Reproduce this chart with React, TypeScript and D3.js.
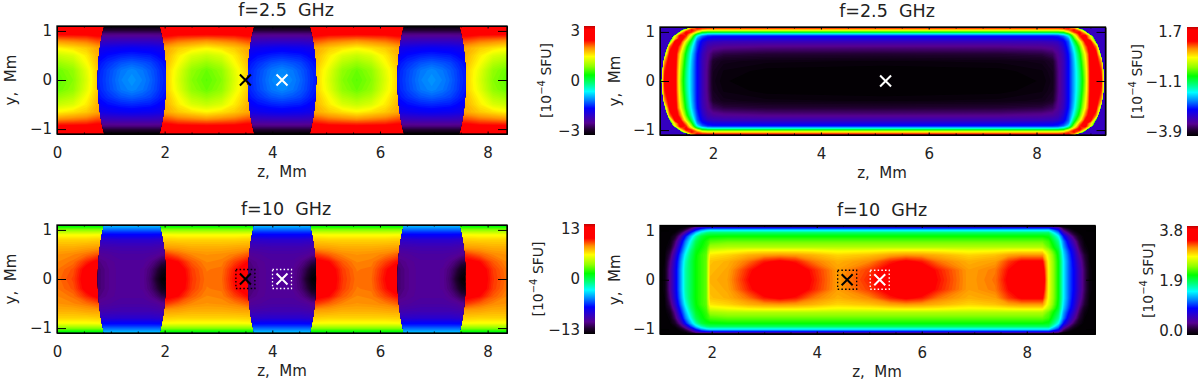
import { useEffect, useRef } from "react";
import * as d3 from "d3";

// colour table (position 0..1 along the bar)
const colorPos = [0, 0.05, 0.11, 0.17, 0.245, 0.32, 0.4, 0.47, 0.55, 0.63, 0.72, 0.8, 0.87, 0.97, 1];
const colorHex = ["#000000", "#200030", "#560090", "#3400c0", "#0000ff", "#0080ff", "#00ffff", "#00ff80", "#00ff00", "#90ff00", "#ffff00", "#ff9000", "#ff0000", "#ff0000", "#c00000"];

// lens edge, half width in Mm at each |y|
const lensEdgeY = [0, 0.3, 0.55, 0.75, 0.9, 1.1];
const lensHalf = [0.635, 0.625, 0.605, 0.58, 0.555, 0.515];
const lensCenters = [1.39, 4.18, 6.96];
const lensZ = [-0.66, -0.45, -0.2, 0, 0.2, 0.35, 0.45, 0.55, 0.66];
const lensRowY = [0, 0.2, 0.35, 0.5, 0.65, 0.8, 0.95, 1.1];

// f=2.5 GHz, transverse field: value rows from y=0 outward
const bgZ = [0, 0.3, 0.55, 0.75, 1.39, 2.03, 2.25, 2.5, 2.78, 3.06, 3.3, 3.55, 4.18, 4.8, 5.05, 5.3, 5.57, 5.84, 6.1, 6.35, 6.96, 7.6, 7.85, 8.1, 8.36];
const bgY25 = [0, 0.2, 0.33, 0.5, 0.65, 0.8, 0.95, 1.1];
const bg25 = [
  [0.6, 0.75, 1.15, 1.55, 1.6, 1.55, 1.15, 0.75, 0.6, 0.75, 1.15, 1.55, 1.6, 1.55, 1.15, 0.75, 0.6, 0.75, 1.15, 1.55, 1.6, 1.55, 1.15, 0.75, 0.6],
  [0.65, 0.8, 1.2, 1.55, 1.6, 1.55, 1.2, 0.8, 0.65, 0.8, 1.2, 1.55, 1.6, 1.55, 1.2, 0.8, 0.65, 0.8, 1.2, 1.55, 1.6, 1.55, 1.2, 0.8, 0.65],
  [0.8, 0.95, 1.3, 1.6, 1.65, 1.6, 1.3, 0.95, 0.8, 0.95, 1.3, 1.6, 1.65, 1.6, 1.3, 0.95, 0.8, 0.95, 1.3, 1.6, 1.65, 1.6, 1.3, 0.95, 0.8],
  [1.05, 1.15, 1.4, 1.65, 1.7, 1.65, 1.4, 1.15, 1.05, 1.15, 1.4, 1.65, 1.7, 1.65, 1.4, 1.15, 1.05, 1.15, 1.4, 1.65, 1.7, 1.65, 1.4, 1.15, 1.05],
  [1.35, 1.45, 1.55, 1.7, 1.75, 1.7, 1.55, 1.45, 1.35, 1.45, 1.55, 1.7, 1.75, 1.7, 1.55, 1.45, 1.35, 1.45, 1.55, 1.7, 1.75, 1.7, 1.55, 1.45, 1.35],
  [1.8, 1.85, 1.9, 2.0, 2.05, 2.0, 1.9, 1.85, 1.8, 1.85, 1.9, 2.0, 2.05, 2.0, 1.9, 1.85, 1.8, 1.85, 1.9, 2.0, 2.05, 2.0, 1.9, 1.85, 1.8],
  [2.3, 2.3, 2.3, 2.35, 2.35, 2.35, 2.3, 2.3, 2.3, 2.3, 2.3, 2.35, 2.35, 2.35, 2.3, 2.3, 2.3, 2.3, 2.3, 2.35, 2.35, 2.35, 2.3, 2.3, 2.3],
  [2.9, 2.9, 2.9, 2.9, 2.9, 2.9, 2.9, 2.9, 2.9, 2.9, 2.9, 2.9, 2.9, 2.9, 2.9, 2.9, 2.9, 2.9, 2.9, 2.9, 2.9, 2.9, 2.9, 2.9, 2.9],
];
const lens25 = [
  [-1.45, -1.28, -1.08, -1.0, -1.08, -1.18, -1.28, -1.38, -1.45],
  [-1.47, -1.3, -1.12, -1.05, -1.12, -1.22, -1.3, -1.4, -1.47],
  [-1.52, -1.38, -1.25, -1.2, -1.25, -1.3, -1.38, -1.45, -1.52],
  [-1.6, -1.5, -1.43, -1.4, -1.43, -1.45, -1.5, -1.55, -1.6],
  [-1.72, -1.66, -1.62, -1.6, -1.62, -1.63, -1.66, -1.68, -1.72],
  [-2.05, -2.02, -2.0, -2.0, -2.0, -2.0, -2.02, -2.03, -2.05],
  [-2.45, -2.45, -2.45, -2.45, -2.45, -2.45, -2.45, -2.45, -2.45],
  [-3, -3, -3, -3, -3, -3, -3, -3, -3],
];

// f=10 GHz, transverse field
const bgY10 = [0, 0.2, 0.35, 0.5, 0.65, 0.8, 0.9, 1.0, 1.1];
const bg10 = [
  [8.2, 8.8, 10.2, 11, 11, 11, 10.5, 9, 8.2, 8.3, 9.6, 10.8, 11, 11, 10.5, 9, 8.2, 8.3, 9.6, 10.8, 11, 11, 10.5, 9, 8.2],
  [8.1, 8.6, 10, 10.8, 11, 11, 10.3, 8.9, 8.1, 8.2, 9.4, 10.6, 11, 11, 10.3, 8.9, 8.1, 8.2, 9.4, 10.6, 11, 11, 10.3, 8.9, 8.1],
  [7.9, 8.2, 9.2, 9.9, 10, 10, 9.6, 8.5, 7.9, 8, 8.8, 9.6, 10, 10, 9.6, 8.5, 7.9, 8, 8.8, 9.6, 10, 10, 9.6, 8.5, 7.9],
  [7.7, 7.9, 8.2, 8.6, 9, 9, 8.4, 7.9, 7.7, 7.8, 8, 8.5, 9, 9, 8.4, 7.9, 7.7, 7.8, 8, 8.5, 9, 9, 8.4, 7.9, 7.7],
  [7.2, 7.2, 7.4, 7.5, 7.6, 7.5, 7.4, 7.2, 7.2, 7.2, 7.3, 7.4, 7.6, 7.5, 7.4, 7.2, 7.2, 7.2, 7.3, 7.4, 7.6, 7.5, 7.4, 7.2, 7.2],
  [6.5, 6.5, 6.5, 6.6, 6.6, 6.6, 6.5, 6.5, 6.5, 6.5, 6.5, 6.6, 6.6, 6.6, 6.5, 6.5, 6.5, 6.5, 6.5, 6.6, 6.6, 6.6, 6.5, 6.5, 6.5],
  [5.6, 5.6, 5.6, 5.7, 5.7, 5.7, 5.6, 5.6, 5.6, 5.6, 5.6, 5.7, 5.7, 5.7, 5.6, 5.6, 5.6, 5.6, 5.6, 5.7, 5.7, 5.7, 5.6, 5.6, 5.6],
  [3.3, 3.3, 3.3, 3.3, 3.3, 3.3, 3.3, 3.3, 3.3, 3.3, 3.3, 3.3, 3.3, 3.3, 3.3, 3.3, 3.3, 3.3, 3.3, 3.3, 3.3, 3.3, 3.3, 3.3, 3.3],
  [0.5, 0.5, 0.5, 0.5, 0.5, 0.5, 0.5, 0.5, 0.5, 0.5, 0.5, 0.5, 0.5, 0.5, 0.5, 0.5, 0.5, 0.5, 0.5, 0.5, 0.5, 0.5, 0.5, 0.5, 0.5],
];
const lens10 = [
  [-10.8, -10.2, -9.8, -9.8, -10, -10.8, -11.8, -12.8, -13],
  [-10.8, -10.2, -9.8, -9.8, -10, -10.6, -11.3, -12.2, -12.6],
  [-10.5, -10.1, -9.8, -9.8, -9.8, -10.2, -10.6, -11.2, -11.5],
  [-10, -9.8, -9.6, -9.6, -9.6, -9.7, -9.8, -10.1, -10.3],
  [-9.3, -9.2, -9.1, -9.1, -9.1, -9.1, -9.2, -9.3, -9.4],
  [-8.2, -8.2, -8.1, -8.1, -8.1, -8.1, -8.2, -8.2, -8.2],
  [-6, -6, -6, -6, -6, -6, -6, -6, -6],
  [-3.4, -3.4, -3.4, -3.4, -3.4, -3.4, -3.4, -3.4, -3.4],
];

// f=2.5 GHz, longitudinal field: one quarter, z from the left edge to mid-length
const q25Mid = 5.15;
const q25Z = [1.02, 1.1, 1.2, 1.3, 1.4, 1.5, 1.6, 1.7, 1.8, 1.9, 2.0, 2.2, 3, 5.15];
const q25Y = [0, 0.2, 0.4, 0.55, 0.7, 0.8, 0.86, 0.92, 0.96, 1.0, 1.04, 1.08, 1.1];
const q25 = [
  [-0.8, 1.1, 1.3, 1.1, -0.4, -1.3, -1.9, -2.5, -3.0, -3.35, -3.75, -3.85, -3.9, -3.9],
  [-0.8, 0.9, 1.3, 1.1, -0.3, -1.25, -1.9, -2.5, -3.0, -3.35, -3.72, -3.82, -3.88, -3.9],
  [-0.9, 0.5, 1.3, 1.15, -0.1, -1.1, -1.85, -2.5, -3.0, -3.3, -3.65, -3.75, -3.8, -3.82],
  [-0.9, -0.4, 1.2, 1.2, 0.1, -0.95, -1.75, -2.45, -2.95, -3.25, -3.45, -3.55, -3.6, -3.62],
  [-0.9, -0.9, 0.7, 1.3, 0.6, -0.6, -1.5, -2.3, -2.8, -3.1, -3.2, -3.25, -3.3, -3.3],
  [-0.9, -0.9, -0.5, 1.2, 1.0, -0.1, -1.1, -2.2, -2.65, -2.9, -2.95, -3, -3, -3],
  [-0.9, -0.9, -0.9, 0.4, 1.3, 0.5, -0.7, -2.0, -2.45, -2.6, -2.7, -2.72, -2.75, -2.75],
  [-0.9, -0.9, -0.9, 0.1, 1.2, 0.9, -0.2, -1.6, -2.15, -2.4, -2.45, -2.45, -2.45, -2.45],
  [-0.9, -0.9, -0.9, -0.9, 0.6, 1.1, 0.3, -0.9, -1.5, -1.75, -1.8, -1.8, -1.8, -1.8],
  [-0.9, -0.9, -0.9, -0.9, 0.0, 1.0, 0.9, 0.1, -0.7, -0.8, -0.82, -0.82, -0.82, -0.82],
  [-0.9, -0.9, -0.9, -0.9, -0.9, 0.3, 1.0, 0.7, 0.3, 0.15, 0.13, 0.13, 0.13, 0.13],
  [-0.9, -0.9, -0.9, -0.9, -0.9, -0.9, 0.5, 1.0, 0.95, 0.9, 0.9, 0.9, 0.9, 0.9],
  [-0.9, -0.9, -0.9, -0.9, -0.9, -0.9, 0.2, 1.2, 1.3, 1.3, 1.3, 1.3, 1.3, 1.3],
];
// outer edge of the emitting volume at f=2.5 GHz
const edgeY = [0, 0.2, 0.43, 0.6, 0.75, 0.9, 1.04, 1.08, 1.1];
const edgeZ = [1.05, 1.06, 1.09, 1.13, 1.18, 1.26, 1.44, 1.57, 1.65];
const cornerValue = -2.95;

// f=10 GHz, longitudinal field, rows from y=0 outward
const long10Z = [1.02, 1.1, 1.2, 1.3, 1.4, 1.5, 1.6, 1.7, 1.8, 1.9, 1.97, 2.3, 2.7, 3.0, 3.3, 3.6, 3.9, 4.4, 5.0, 5.4, 5.7, 6.0, 6.3, 6.9, 7.4, 7.65, 7.9, 8.3, 8.42, 8.6, 8.7, 8.8, 8.9, 9.0, 9.1, 9.2, 9.3];
const long10Y = [0, 0.2, 0.37, 0.5, 0.58, 0.66, 0.78, 0.88, 0.95, 1.0, 1.05, 1.07, 1.1];
const long10 = [
  [0, 0.05, 0.42, 0.8, 1.25, 1.7, 1.9, 2.1, 2.2, 2.3, 2.95, 3.0, 3.3, 3.5, 3.65, 3.5, 3.3, 3.0, 3.25, 3.45, 3.65, 3.5, 3.3, 3.0, 3.1, 3.35, 3.65, 3.6, 2.7, 2.09, 1.5, 1.15, 0.9, 0.6, 0.3, 0.05, 0],
  [0, 0.05, 0.42, 0.8, 1.25, 1.7, 1.9, 2.1, 2.2, 2.3, 2.92, 2.98, 3.25, 3.45, 3.6, 3.45, 3.27, 3.0, 3.2, 3.4, 3.6, 3.45, 3.27, 3.0, 3.08, 3.3, 3.6, 3.5, 2.7, 2.09, 1.5, 1.15, 0.9, 0.6, 0.3, 0.05, 0],
  [0, 0.03, 0.35, 0.75, 1.2, 1.65, 1.9, 2.1, 2.2, 2.3, 2.9, 2.95, 3.1, 3.27, 3.34, 3.27, 3.1, 2.95, 3.05, 3.25, 3.34, 3.27, 3.1, 2.95, 3.0, 3.2, 3.33, 3.33, 2.68, 2.09, 1.5, 1.15, 0.85, 0.55, 0.25, 0.03, 0],
  [0, 0.02, 0.25, 0.65, 1.1, 1.55, 1.85, 2.08, 2.2, 2.28, 2.8, 2.85, 2.95, 3.0, 3.02, 3.0, 2.95, 2.85, 2.9, 2.98, 3.02, 3.0, 2.95, 2.85, 2.9, 2.98, 3.02, 3.02, 2.62, 2.05, 1.45, 1.1, 0.8, 0.45, 0.2, 0.02, 0],
  [0, 0.01, 0.18, 0.55, 1.0, 1.45, 1.8, 2.05, 2.15, 2.25, 2.65, 2.72, 2.78, 2.8, 2.8, 2.8, 2.78, 2.72, 2.75, 2.79, 2.8, 2.8, 2.78, 2.72, 2.75, 2.78, 2.8, 2.8, 2.5, 2.0, 1.4, 1.05, 0.75, 0.38, 0.12, 0.01, 0],
  [0, 0, 0.1, 0.42, 0.9, 1.35, 1.7, 2.0, 2.1, 2.2, 2.45, 2.5, 2.5, 2.5, 2.5, 2.5, 2.5, 2.5, 2.5, 2.5, 2.5, 2.5, 2.5, 2.5, 2.5, 2.5, 2.5, 2.5, 2.3, 1.9, 1.3, 0.95, 0.65, 0.3, 0.07, 0, 0],
  [0, 0, 0.04, 0.3, 0.7, 1.2, 1.55, 1.9, 2.05, 2.15, 2.25, 2.3, 2.3, 2.3, 2.3, 2.3, 2.3, 2.3, 2.3, 2.3, 2.3, 2.3, 2.3, 2.3, 2.3, 2.3, 2.3, 2.3, 2.2, 1.75, 1.2, 0.8, 0.5, 0.2, 0.03, 0, 0],
  [0, 0, 0.02, 0.15, 0.45, 0.95, 1.35, 1.7, 1.95, 2.05, 2.08, 2.1, 2.1, 2.1, 2.1, 2.1, 2.1, 2.1, 2.1, 2.1, 2.1, 2.1, 2.1, 2.1, 2.1, 2.1, 2.1, 2.1, 2.05, 1.55, 0.95, 0.6, 0.3, 0.1, 0.01, 0, 0],
  [0, 0, 0, 0.05, 0.25, 0.55, 1.0, 1.4, 1.65, 1.8, 1.85, 1.85, 1.85, 1.85, 1.85, 1.85, 1.85, 1.85, 1.85, 1.85, 1.85, 1.85, 1.85, 1.85, 1.85, 1.85, 1.85, 1.85, 1.85, 1.25, 0.65, 0.35, 0.15, 0.03, 0, 0, 0],
  [0, 0, 0, 0, 0.1, 0.3, 0.6, 1.0, 1.3, 1.45, 1.5, 1.5, 1.5, 1.5, 1.5, 1.5, 1.5, 1.5, 1.5, 1.5, 1.5, 1.5, 1.5, 1.5, 1.5, 1.5, 1.5, 1.5, 1.5, 1.0, 0.4, 0.2, 0.05, 0, 0, 0, 0],
  [0, 0, 0, 0, 0.03, 0.1, 0.3, 0.6, 0.8, 0.9, 0.93, 0.93, 0.93, 0.93, 0.93, 0.93, 0.93, 0.93, 0.93, 0.93, 0.93, 0.93, 0.93, 0.93, 0.93, 0.93, 0.93, 0.93, 0.93, 0.6, 0.2, 0.05, 0, 0, 0, 0, 0],
  [0, 0, 0, 0, 0, 0.05, 0.2, 0.35, 0.42, 0.42, 0.42, 0.42, 0.42, 0.42, 0.42, 0.42, 0.42, 0.42, 0.42, 0.42, 0.42, 0.42, 0.42, 0.42, 0.42, 0.42, 0.42, 0.42, 0.42, 0.3, 0.05, 0, 0, 0, 0, 0, 0],
  [0, 0, 0, 0, 0, 0.02, 0.05, 0.1, 0.12, 0.12, 0.12, 0.12, 0.12, 0.12, 0.12, 0.12, 0.12, 0.12, 0.12, 0.12, 0.12, 0.12, 0.12, 0.12, 0.12, 0.12, 0.12, 0.12, 0.12, 0.08, 0.02, 0, 0, 0, 0, 0, 0],
];

const titles = ["f=2.5  GHz", "f=2.5  GHz", "f=10  GHz", "f=10  GHz"];
const zTicks = [0, 2, 4, 6, 8];
const zTicksRight = [2, 4, 6, 8];
const yTicks = [-1, 0, 1];
const barRanges = [[-3, 3], [-3.9, 1.7], [-13, 13], [0, 3.8]];
const barTickText = [["\u22123", "0", "3"], ["\u22123.9", "\u22121.1", "1.7"], ["\u221213", "0", "13"], ["0.0", "1.9", "3.8"]];
const crossZ = [[3.5, 4.18], [5.2], [3.5, 4.18], [4.58, 5.2]];
const crossColor = [["#000", "#fff"], ["#fff"], ["#000", "#fff"], ["#000", "#fff"]];
const crossBox = [false, false, true, true];

const frames = [
  { l: 57, r: 507, t: 26, b: 134, z: [0, 8.36], barX: 584, barT: 26, barB: 135, unitX: 547, barLabel: 580, titleX: 286, labelX: 282 },
  { l: 660, r: 1105.5, t: 27, b: 135, z: [1.015, 9.28], barX: 1187, barT: 27, barB: 136, unitX: 1138, barLabel: 1182, titleX: 887, labelX: 882 },
  { l: 57, r: 507, t: 225, b: 333, z: [0, 8.36], barX: 584, barT: 224, barB: 334, unitX: 539, barLabel: 580, titleX: 286, labelX: 282 },
  { l: 660, r: 1095, t: 225.5, b: 334, z: [1.015, 9.3], barX: 1187, barT: 226, barB: 335, unitX: 1149, barLabel: 1183, titleX: 882, labelX: 877 },
];
const FONT = "'DejaVu Sans', sans-serif";

function mirrorRows(rows: number[][]) {
  return [...rows.slice().reverse(), ...rows.slice(1)];
}
function mirrorY(ys: number[]) {
  return [...ys.slice().reverse(), ...ys.slice(1).map((v) => -v)];
}

// fill one gridded field with d3.contours, nodes may be unevenly spaced
function drawField(g: any, zNodes: number[], yNodes: number[], rows: number[][], x: any, y: any, color: any, range: number[]) {
  const n = zNodes.length, m = yNodes.length;
  const gx = d3.scaleLinear()
    .domain([0, ...zNodes.map((_, i) => i + 0.5), n])
    .range([x(zNodes[0]), ...zNodes.map((v) => x(v)), x(zNodes[n - 1])]);
  const gy = d3.scaleLinear()
    .domain([0, ...yNodes.map((_, i) => i + 0.5), m])
    .range([y(yNodes[0]), ...yNodes.map((v) => y(v)), y(yNodes[m - 1])]);
  const project = d3.geoTransform({
    point(a: number, b: number) { (this as any).stream.point(gx(a), gy(b)); },
  });
  const path = d3.geoPath(project);
  const step = (range[1] - range[0]) / 128;
  const levels = d3.range(range[0], range[1], step);
  const shapes = d3.contours().size([n, m]).smooth(true).thresholds(levels)(rows.flat());
  g.append("g").selectAll("path").data(shapes).join("path")
    .attr("d", (d: any) => path(d))
    .attr("fill", (d: any) => color(d.value + step / 2));
}

export default function App() {
  const ref = useRef<SVGSVGElement>(null);

  useEffect(() => {
    const svg = d3.select(ref.current);
    svg.selectAll("*").remove();
    const defs = svg.append("defs");

    frames.forEach((f, i) => {
      const x = d3.scaleLinear().domain(f.z).range([f.l, f.r]);
      const y = d3.scaleLinear().domain([1.1, -1.1]).range([f.t, f.b]);
      const range = barRanges[i];
      const color = d3.scaleLinear<string>()
        .domain(colorPos.map((p) => range[0] + p * (range[1] - range[0])))
        .range(colorHex)
        .clamp(true);

      defs.append("clipPath").attr("id", `plot${i}`).append("rect")
        .attr("x", f.l).attr("y", f.t).attr("width", f.r - f.l).attr("height", f.b - f.t);
      const plot = svg.append("g").attr("clip-path", `url(#plot${i})`);
      plot.append("rect").attr("x", f.l).attr("y", f.t).attr("width", f.r - f.l).attr("height", f.b - f.t)
        .attr("fill", color(i === 1 ? cornerValue : range[0]));

      if (i === 0 || i === 2) {
        drawField(plot, bgZ, mirrorY(i === 0 ? bgY25 : bgY10), mirrorRows(i === 0 ? bg25 : bg10), x, y, color, range);
        const edge = d3.line<number[]>().x((d) => x(d[0])).y((d) => y(d[1]));
        lensCenters.forEach((c, k) => {
          const ys = mirrorY(lensEdgeY);
          const hs = [...lensHalf.slice().reverse(), ...lensHalf.slice(1)];
          const outline = [...ys.map((v, j) => [c - hs[j], v]), ...ys.map((v, j) => [c + hs[j], v]).reverse()];
          const id = `lens${i}-${k}`;
          defs.append("clipPath").attr("id", id).append("path").attr("d", edge(outline) + "Z");
          const lens = plot.append("g").attr("clip-path", `url(#${id})`);
          drawField(lens, lensZ.map((d) => c + d), mirrorY(lensRowY), mirrorRows(i === 0 ? lens25 : lens10), x, y, color, range);
        });
      } else if (i === 1) {
        const zs = [...q25Z, ...q25Z.slice(0, -1).reverse().map((v) => 2 * q25Mid - v)];
        const rows = q25.map((r) => [...r, ...r.slice(0, -1).reverse()]);
        const ys = mirrorY(edgeY);
        const zes = [...edgeZ.slice().reverse(), ...edgeZ.slice(1)];
        const outline = [...ys.map((v, j) => [zes[j], v]), ...ys.map((v, j) => [2 * q25Mid - zes[j], v]).reverse()];
        defs.append("clipPath").attr("id", "edge25").append("path")
          .attr("d", d3.line<number[]>().x((d) => x(d[0])).y((d) => y(d[1]))(outline) + "Z");
        const inner = plot.append("g").attr("clip-path", "url(#edge25)");
        drawField(inner, zs, mirrorY(q25Y), mirrorRows(rows), x, y, color, range);
      } else {
        drawField(plot, long10Z, mirrorY(long10Y), mirrorRows(long10), x, y, color, range);
      }

      // axes: IDL style inward ticks, length is a fraction of the other axis
      const ticks = i % 2 === 0 ? zTicks : zTicksRight;
      const minor = d3.range(Math.ceil(f.z[0] * 2) / 2, f.z[1], 0.5).filter((v) => v % 2 !== 0);
      const bottom = svg.append("g").attr("transform", `translate(0,${f.b})`)
        .call(d3.axisBottom(x).tickValues(ticks).tickSize(-2.5).tickPadding(13).tickSizeOuter(0).tickFormat(d3.format("d") as any));
      svg.append("g").attr("transform", `translate(0,${f.b})`)
        .call(d3.axisBottom(x).tickValues(minor).tickSize(-1.5).tickSizeOuter(0).tickFormat(() => ""));
      svg.append("g").attr("transform", `translate(0,${f.t})`)
        .call(d3.axisTop(x).tickValues(ticks).tickSize(-2.5).tickSizeOuter(0).tickFormat(() => ""));
      svg.append("g").attr("transform", `translate(0,${f.t})`)
        .call(d3.axisTop(x).tickValues(minor).tickSize(-1.5).tickSizeOuter(0).tickFormat(() => ""));
      const left = svg.append("g").attr("transform", `translate(${f.l},0)`)
        .call(d3.axisLeft(y).tickValues(yTicks).tickSize(-9).tickPadding(5).tickSizeOuter(0)
          .tickFormat((d: any) => (d < 0 ? "\u2212" + Math.abs(d) : String(d))));
      svg.append("g").attr("transform", `translate(${f.r},0)`)
        .call(d3.axisRight(y).tickValues(yTicks).tickSize(-9).tickSizeOuter(0).tickFormat(() => ""));
      [bottom, left].forEach((a) => a.attr("font-family", FONT).attr("font-size", 15).selectAll("text").attr("fill", "#222"));

      svg.append("rect").attr("x", f.l).attr("y", f.t).attr("width", f.r - f.l).attr("height", f.b - f.t)
        .attr("fill", "none").attr("stroke", "#000").attr("stroke-width", 1.3);

      // crosses and dotted boxes
      crossZ[i].forEach((z, k) => {
        const cx = x(z), cy = y(0), c = crossColor[i][k];
        const mark = d3.path();
        mark.moveTo(cx - 5.5, cy - 5.5); mark.lineTo(cx + 5.5, cy + 5.5);
        mark.moveTo(cx - 5.5, cy + 5.5); mark.lineTo(cx + 5.5, cy - 5.5);
        svg.append("path").attr("d", mark.toString()).attr("stroke", c).attr("stroke-width", 2).attr("fill", "none");
        if (crossBox[i]) {
          svg.append("rect").attr("x", cx - 9.5).attr("y", cy - 9.5).attr("width", 19).attr("height", 19)
            .attr("fill", "none").attr("stroke", c).attr("stroke-width", 1.3).attr("stroke-dasharray", "1.5 2.2");
        }
      });

      // colour bar
      const gradId = `bar${i}`;
      const grad = defs.append("linearGradient").attr("id", gradId).attr("x1", 0).attr("x2", 0).attr("y1", 1).attr("y2", 0);
      colorPos.forEach((p, k) => grad.append("stop").attr("offset", p).attr("stop-color", colorHex[k]));
      svg.append("rect").attr("x", f.barX).attr("y", f.barT).attr("width", 11).attr("height", f.barB - f.barT)
        .attr("fill", `url(#${gradId})`);
      const barScale = d3.scaleLinear().domain([0, 1, 2]).range([f.barB - 4, (f.barT + f.barB) / 2, f.barT + 5]);
      const barAxis = svg.append("g").attr("transform", `translate(${f.barLabel},0)`)
        .call(d3.axisLeft(barScale).tickValues([0, 1, 2]).tickSize(0).tickPadding(0)
          .tickFormat((d: any) => barTickText[i][d]));
      barAxis.select(".domain").remove();
      barAxis.attr("font-family", FONT).attr("font-size", 15).selectAll("text").attr("fill", "#222");

      // labels
      const label = (tx: number, ty: number, s: string, size: number, rotate = false) =>
        svg.append("text")
          .attr("transform", `translate(${tx},${ty})${rotate ? " rotate(-90)" : ""}`)
          .attr("text-anchor", "middle").attr("dominant-baseline", "middle")
          .attr("font-family", FONT).attr("font-size", size).attr("fill", "#222")
          .style("white-space", "pre").text(s);

      label(f.titleX, f.t - 15, titles[i], 17.5);
      label(f.labelX, f.b + 38, "z,  Mm", 15);
      label(i % 2 === 0 ? 11 : 615, y(0), "y,  Mm", 15, true);

      const unit = svg.append("text")
        .attr("transform", `translate(${f.unitX},${(f.barT + f.barB) / 2}) rotate(-90)`)
        .attr("text-anchor", "middle").attr("dominant-baseline", "middle")
        .attr("font-family", FONT).attr("font-size", 14).attr("fill", "#222").style("white-space", "pre");
      unit.append("tspan").text("[10");
      unit.append("tspan").attr("dy", -5).attr("font-size", 10).text("\u22124");
      unit.append("tspan").attr("dy", 5).text(" SFU]");
    });
  }, []);

  return <svg ref={ref} width={1200} height={380} style={{ position: "absolute", left: 0, top: 0, background: "#fff" }} />;
}
